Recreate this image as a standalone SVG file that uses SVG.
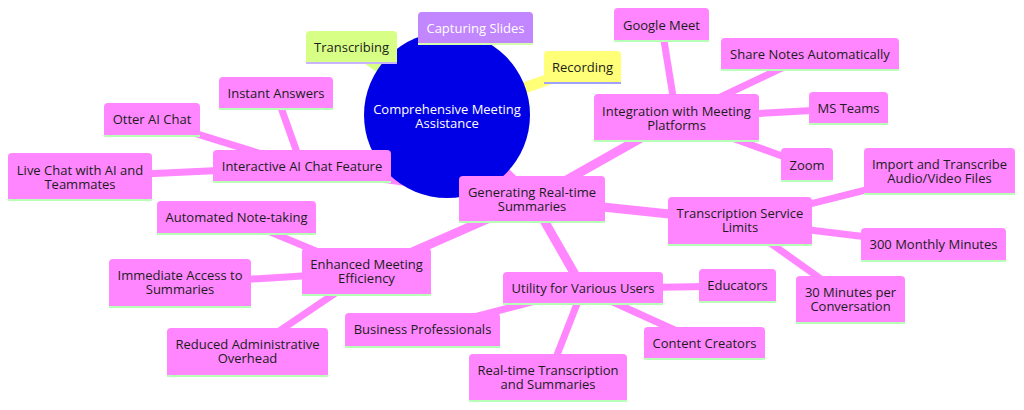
<svg xmlns="http://www.w3.org/2000/svg" width="1024" height="410" viewBox="0 0 1024 410">
<style>
.t{font-family:"Open Sans","Liberation Sans",sans-serif;font-size:13px;text-anchor:middle;fill:#1c1c1c}
.w{fill:#fff}
.e{fill:none;stroke-linecap:butt}
.d0{stroke-width:11}
.d1{stroke-width:9}
.d2{stroke-width:7}
.pk{stroke:#ff86ff}
.lm{stroke:#d7ff86}
.pu{stroke:#c286ff}
.ye{stroke:#ffff78}
.npk{fill:#ff86ff}
.nlm{fill:#d7ff86}
.npu{fill:#c286ff}
.nye{fill:#ffff78}
.l{stroke-width:2}
.lpk{stroke:#b8ffb8}
.llm{stroke:#c8b4ff}
.lpu{stroke:#d4ffb0}
.lye{stroke:#a0a0ff}
</style>
<rect width="1024" height="410" fill="#fff"/>
<g id="connectors">
<line class="e d0 lm" x1="447" y1="115" x2="351.5" y2="47.5"/>
<line class="e d0 pu" x1="447" y1="115" x2="475.5" y2="28.5"/>
<line class="e d0 ye" x1="447" y1="115" x2="582.5" y2="67.5"/>
<line class="e d0 pk" x1="447" y1="115" x2="532" y2="199.5"/>
<line class="e d1 pk" x1="532" y1="199.5" x2="676.5" y2="118"/>
<line class="e d1 pk" x1="532" y1="199.5" x2="740" y2="221.5"/>
<line class="e d1 pk" x1="532" y1="199.5" x2="583" y2="288.5"/>
<line class="e d1 pk" x1="532" y1="199.5" x2="366.5" y2="272"/>
<line class="e d1 pk" x1="532" y1="199.5" x2="302" y2="166.5"/>
<line class="e d2 pk" x1="676.5" y1="118" x2="661.5" y2="25"/>
<line class="e d2 pk" x1="676.5" y1="118" x2="810" y2="54.5"/>
<line class="e d2 pk" x1="676.5" y1="118" x2="848.5" y2="108.5"/>
<line class="e d2 pk" x1="676.5" y1="118" x2="807" y2="165"/>
<line class="e d2 pk" x1="740" y1="221.5" x2="939.5" y2="171.5"/>
<line class="e d2 pk" x1="740" y1="221.5" x2="933.5" y2="245"/>
<line class="e d2 pk" x1="740" y1="221.5" x2="850.5" y2="300"/>
<line class="e d2 pk" x1="583" y1="288.5" x2="737.5" y2="286"/>
<line class="e d2 pk" x1="583" y1="288.5" x2="704.5" y2="343.5"/>
<line class="e d2 pk" x1="583" y1="288.5" x2="548" y2="378"/>
<line class="e d2 pk" x1="583" y1="288.5" x2="422.5" y2="330.5"/>
<line class="e d2 pk" x1="366.5" y1="272" x2="236.5" y2="218"/>
<line class="e d2 pk" x1="366.5" y1="272" x2="180" y2="283.5"/>
<line class="e d2 pk" x1="366.5" y1="272" x2="247.5" y2="352.5"/>
<line class="e d2 pk" x1="302" y1="166.5" x2="276" y2="93.5"/>
<line class="e d2 pk" x1="302" y1="166.5" x2="152" y2="120"/>
<line class="e d2 pk" x1="302" y1="166.5" x2="80" y2="177"/>
</g>
<g id="root">
<circle cx="447" cy="115" r="83" fill="#0000e6"/>
<text class="t w" x="447" y="113.5">Comprehensive Meeting<tspan x="447" dy="14">Assistance</tspan></text>
</g>
<g id="transcribing"><path class="nlm" d="M306,62V35Q306,31 310,31H393Q397,31 397,35V62Z"/><line class="l llm" x1="306" y1="63" x2="397" y2="63"/><text class="t" x="351.5" y="52">Transcribing</text></g>
<g id="capturing-slides"><path class="npu" d="M418,43V16Q418,12 422,12H529Q533,12 533,16V43Z"/><line class="l lpu" x1="418" y1="44" x2="533" y2="44"/><text class="t w" x="475.5" y="33">Capturing Slides</text></g>
<g id="recording"><path class="nye" d="M544,82V55Q544,51 548,51H617Q621,51 621,55V82Z"/><line class="l lye" x1="544" y1="83" x2="621" y2="83"/><text class="t" x="582.5" y="72">Recording</text></g>
<g id="generating"><path class="npk" d="M459,221V180Q459,176 463,176H601Q605,176 605,180V221Z"/><line class="l lpk" x1="459" y1="222" x2="605" y2="222"/><text class="t" x="532" y="197">Generating Real-time<tspan x="532" dy="14">Summaries</tspan></text></g>
<g id="integration"><path class="npk" d="M594,140V98Q594,94 598,94H755Q759,94 759,98V140Z"/><line class="l lpk" x1="594" y1="141" x2="759" y2="141"/><text class="t" x="676.5" y="115.5">Integration with Meeting<tspan x="676.5" dy="14">Platforms</tspan></text></g>
<g id="google-meet"><path class="npk" d="M614,40V12Q614,8 618,8H705Q709,8 709,12V40Z"/><line class="l lpk" x1="614" y1="41" x2="709" y2="41"/><text class="t" x="661.5" y="29.5">Google Meet</text></g>
<g id="share-notes"><path class="npk" d="M721,69V42Q721,38 725,38H895Q899,38 899,42V69Z"/><line class="l lpk" x1="721" y1="70" x2="899" y2="70"/><text class="t" x="810" y="59">Share Notes Automatically</text></g>
<g id="ms-teams"><path class="npk" d="M809,123V96Q809,92 813,92H884Q888,92 888,96V123Z"/><line class="l lpk" x1="809" y1="124" x2="888" y2="124"/><text class="t" x="848.5" y="113">MS Teams</text></g>
<g id="zoom"><path class="npk" d="M781,180V152Q781,148 785,148H829Q833,148 833,152V180Z"/><line class="l lpk" x1="781" y1="181" x2="833" y2="181"/><text class="t" x="807" y="169.5">Zoom</text></g>
<g id="transcription-limits"><path class="npk" d="M668,244V201Q668,197 672,197H808Q812,197 812,201V244Z"/><line class="l lpk" x1="668" y1="245" x2="812" y2="245"/><text class="t" x="740" y="218">Transcription Service<tspan x="740" dy="14">Limits</tspan></text></g>
<g id="import"><path class="npk" d="M864,193V152Q864,148 868,148H1011Q1015,148 1015,152V193Z"/><line class="l lpk" x1="864" y1="194" x2="1015" y2="194"/><text class="t" x="939.5" y="169">Import and Transcribe<tspan x="939.5" dy="14">Audio/Video Files</tspan></text></g>
<g id="monthly-minutes"><path class="npk" d="M861,260V232Q861,228 865,228H1002Q1006,228 1006,232V260Z"/><line class="l lpk" x1="861" y1="261" x2="1006" y2="261"/><text class="t" x="933.5" y="249">300 Monthly Minutes</text></g>
<g id="thirty-minutes"><path class="npk" d="M796,322V280Q796,276 800,276H901Q905,276 905,280V322Z"/><line class="l lpk" x1="796" y1="323" x2="905" y2="323"/><text class="t" x="850.5" y="297">30 Minutes per<tspan x="850.5" dy="14">Conversation</tspan></text></g>
<g id="utility"><path class="npk" d="M503,303V276Q503,272 507,272H659Q663,272 663,276V303Z"/><line class="l lpk" x1="503" y1="304" x2="663" y2="304"/><text class="t" x="583" y="293">Utility for Various Users</text></g>
<g id="educators"><path class="npk" d="M699,301V273Q699,269 703,269H772Q776,269 776,273V301Z"/><line class="l lpk" x1="699" y1="302" x2="776" y2="302"/><text class="t" x="737.5" y="289.5">Educators</text></g>
<g id="content-creators"><path class="npk" d="M644,358V331Q644,327 648,327H761Q765,327 765,331V358Z"/><line class="l lpk" x1="644" y1="359" x2="765" y2="359"/><text class="t" x="704.5" y="347.5">Content Creators</text></g>
<g id="realtime-transcription"><path class="npk" d="M469,400V358Q469,354 473,354H623Q627,354 627,358V400Z"/><line class="l lpk" x1="469" y1="401" x2="627" y2="401"/><text class="t" x="548" y="374.5">Real-time Transcription<tspan x="548" dy="14">and Summaries</tspan></text></g>
<g id="business"><path class="npk" d="M345,346V317Q345,313 349,313H496Q500,313 500,317V346Z"/><line class="l lpk" x1="345" y1="347" x2="500" y2="347"/><text class="t" x="422.5" y="334">Business Professionals</text></g>
<g id="enhanced"><path class="npk" d="M302,294V252Q302,248 306,248H427Q431,248 431,252V294Z"/><line class="l lpk" x1="302" y1="295" x2="431" y2="295"/><text class="t" x="366.5" y="268.5">Enhanced Meeting<tspan x="366.5" dy="14">Efficiency</tspan></text></g>
<g id="automated"><path class="npk" d="M157,233V205Q157,201 161,201H312Q316,201 316,205V233Z"/><line class="l lpk" x1="157" y1="234" x2="316" y2="234"/><text class="t" x="236.5" y="222">Automated Note-taking</text></g>
<g id="immediate"><path class="npk" d="M109,306V263Q109,259 113,259H247Q251,259 251,263V306Z"/><line class="l lpk" x1="109" y1="307" x2="251" y2="307"/><text class="t" x="180" y="280">Immediate Access to<tspan x="180" dy="14">Summaries</tspan></text></g>
<g id="reduced"><path class="npk" d="M167,375V332Q167,328 171,328H324Q328,328 328,332V375Z"/><line class="l lpk" x1="167" y1="376" x2="328" y2="376"/><text class="t" x="247.5" y="348.5">Reduced Administrative<tspan x="247.5" dy="14">Overhead</tspan></text></g>
<g id="interactive"><path class="npk" d="M213,181V154Q213,150 217,150H387Q391,150 391,154V181Z"/><line class="l lpk" x1="213" y1="182" x2="391" y2="182"/><text class="t" x="302" y="171">Interactive AI Chat Feature</text></g>
<g id="instant-answers"><path class="npk" d="M219,108V81Q219,77 223,77H329Q333,77 333,81V108Z"/><line class="l lpk" x1="219" y1="109" x2="333" y2="109"/><text class="t" x="276" y="97.5">Instant Answers</text></g>
<g id="otter"><path class="npk" d="M104,135V107Q104,103 108,103H196Q200,103 200,107V135Z"/><line class="l lpk" x1="104" y1="136" x2="200" y2="136"/><text class="t" x="152" y="124">Otter AI Chat</text></g>
<g id="live-chat"><path class="npk" d="M8,199V157Q8,153 12,153H148Q152,153 152,157V199Z"/><line class="l lpk" x1="8" y1="200" x2="152" y2="200"/><text class="t" x="80" y="175">Live Chat with AI and<tspan x="80" dy="14">Teammates</tspan></text></g>
</svg>
